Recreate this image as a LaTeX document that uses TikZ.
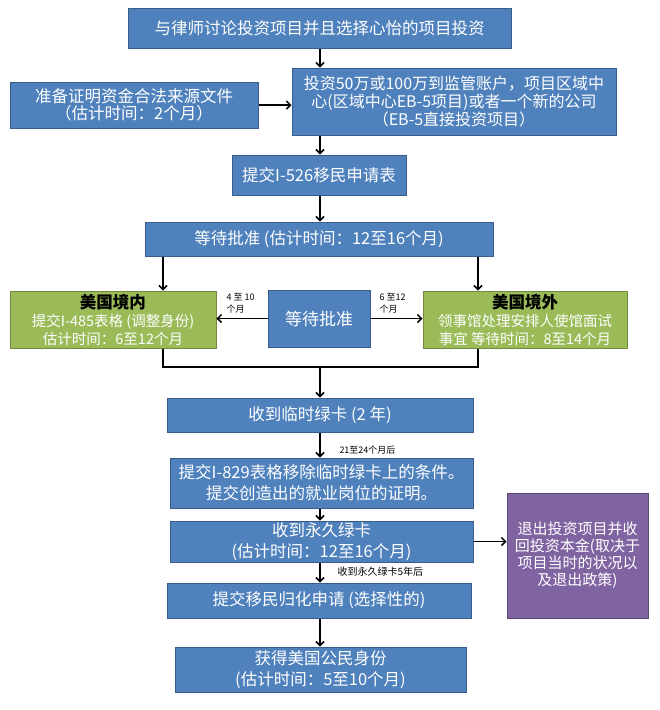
\documentclass[tikz,border=0pt]{standalone}
\usepackage{fontspec}
\setmainfont{Noto Sans CJK SC}
\usetikzlibrary{arrows.meta}

\definecolor{boxblue}{RGB}{79,129,189}
\definecolor{blueline}{RGB}{56,93,138}
\definecolor{boxgreen}{RGB}{155,187,89}
\definecolor{greenline}{RGB}{113,137,63}
\definecolor{boxpurple}{RGB}{128,100,162}
\definecolor{purpleline}{RGB}{92,71,118}

\tikzset{every picture/.style={line width=1pt},
  bluebox/.style={draw=blueline, fill=boxblue, text=white, align=center, inner sep=0pt, font=\fontsize{16.5}{20}\selectfont},
  greenbox/.style={draw=greenline, fill=boxgreen, text=white, align=center, inner sep=0pt, font=\fontsize{14.5}{18}\selectfont},
  purplebox/.style={draw=purpleline, fill=boxpurple, text=white, align=center, inner sep=0pt, font=\fontsize{15}{17}\selectfont},
  arr/.style={-{Straight Barb[length=4pt,width=8pt]}, line width=1.5pt},
  link/.style={line width=1.5pt},
  note/.style={anchor=west, align=left, inner sep=0pt, font=\fontsize{9}{12}\selectfont}
}

\begin{document}
\begin{tikzpicture}[x=1pt,y=1pt,yscale=-1,xscale=1]
	\useasboundingbox (0,0) rectangle (660,710);
	\coordinate (spine) at (320,0);
	\coordinate (lx) at (163,0);
	\coordinate (rx) at (478,0);
	\coordinate (join) at (0,367);

	% Text Node
	\node[bluebox, minimum width=383, minimum height=40] (discuss) at (319.5,28) {与律师讨论投资项目并且选择心怡的项目投资};
	% Text Node
	\node[bluebox, minimum width=248, minimum height=46, font=\fontsize{16.5}{17}\selectfont] (funds) at (134,105) {准备证明资金合法来源文件\\（估计时间：2个月）};
	% Text Node
	\node[bluebox, minimum width=324, minimum height=67, font=\fontsize{16}{18.3}\selectfont] (invest) at (454,101.5) {投资50万或100万到监管账户，项目区域中\\心(区域中心EB-5项目)或者一个新的公司\\（EB-5直接投资项目）};
	% Text Node
	\node[bluebox, minimum width=174, minimum height=40] (petition) at (319,175) {提交I-526移民申请表};
	% Text Node
	\node[bluebox, minimum width=348, minimum height=34] (approval) at (319,239) {等待批准 (估计时间：12至16个月)};
	% Text Node
	\node[greenbox, minimum width=206, minimum height=57] (inside) at (113,319.5) {{\fontsize{16.5}{18}\selectfont\bfseries\color{black}美国境内}\\提交I-485表格 (调整身份)\\估计时间：6至12个月};
	% Text Node
	\node[bluebox, minimum width=102, minimum height=57, font=\fontsize{17}{20}\selectfont] (waiting) at (319,318.5) {等待批准};
	% Text Node
	\node[greenbox, minimum width=204, minimum height=57] (outside) at (525,319.5) {{\fontsize{16.5}{18}\selectfont\bfseries\color{black}美国境外}\\领事馆处理安排人使馆面试\\事宜 等待时间：8至14个月};
	% Text Node
	\node[bluebox, minimum width=306, minimum height=34] (tempcard) at (320,415) {收到临时绿卡 (2 年)};
	% Text Node
	\node[bluebox, minimum width=303, minimum height=50, font=\fontsize{16.5}{21}\selectfont] (remove) at (321.5,483) {提交I-829表格移除临时绿卡上的条件。\\提交创造出的就业岗位的证明。};
	% Text Node
	\node[bluebox, minimum width=303, minimum height=41, font=\fontsize{16.5}{21}\selectfont] (permcard) at (321.5,541.5) {收到永久绿卡\\(估计时间：12至16个月)};
	% Text Node
	\node[purplebox, minimum width=141, minimum height=125] (exit) at (577.5,555.5) {退出投资项目并收\\回投资本金(取决于\\项目当时的状况以\\及退出政策)};
	% Text Node
	\node[bluebox, minimum width=304, minimum height=35] (natural) at (319,600.5) {提交移民归化申请 (选择性的)};
	% Text Node
	\node[bluebox, minimum width=291, minimum height=45, font=\fontsize{16.5}{21}\selectfont] (citizen) at (320.5,669.5) {获得美国公民身份\\(估计时间：5至10个月)};

	%Straight Lines
	\draw[arr] (discuss.south -| spine) -- (invest.north -| spine);
	\draw[arr] (funds.east) -- (funds.east -| invest.west);
	\draw[arr] (invest.south -| spine) -- (petition.north -| spine);
	\draw[arr] (petition.south -| spine) -- (approval.north -| spine);
	\draw[arr] (approval.south -| lx) -- (inside.north -| lx);
	\draw[arr] (approval.south -| rx) -- (outside.north -| rx);
	\draw[arr] (waiting.west) -- (inside.east |- waiting.west);
	\draw[arr] (waiting.east) -- (outside.west |- waiting.east);
	\draw[link] (inside.south -| lx) -- (lx |- join) -- (rx |- join) -- (outside.south -| rx);
	\draw[arr] (spine |- join) -- (tempcard.north -| spine);
	\draw[arr] (tempcard.south -| spine) -- (remove.north -| spine);
	\draw[arr] (remove.south -| spine) -- (permcard.north -| spine);
	\draw[arr] (permcard.east) -- (permcard.east -| exit.west);
	\draw[arr] (permcard.south -| spine) -- (natural.north -| spine);
	\draw[arr] (natural.south -| spine) -- (citizen.north -| spine);

	% Text Node
	\node[note] (leftnote) at (226,303) {4 至 10\\个月};
	% Text Node
	\node[note] (rightnote) at (379,303) {6 至12\\个月};
	% Text Node
	\node[note] (afternote) at (339,450) {21至24个月后};
	% Text Node
	\node[note, font=\fontsize{10}{12}\selectfont] (yearsnote) at (337,572) {收到永久绿卡5年后};

\end{tikzpicture}
\end{document}
